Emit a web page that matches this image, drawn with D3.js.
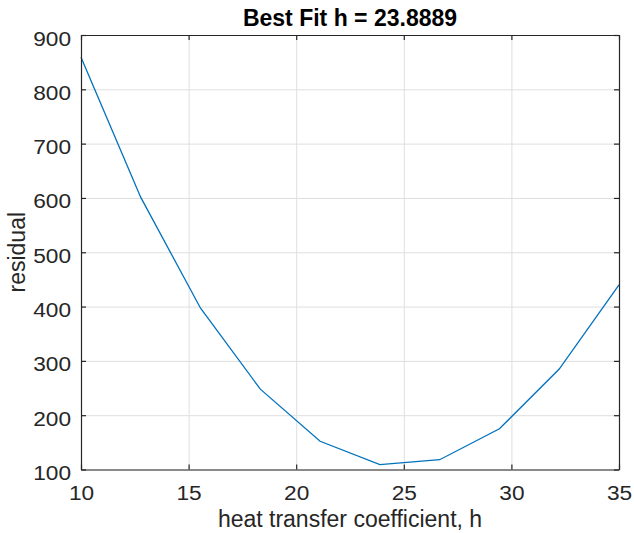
<!DOCTYPE html>
<html>
<head>
<meta charset="utf-8">
<script src="https://cdn.jsdelivr.net/npm/d3@7"></script>
<style>
  body { margin: 0; background: #fff; }
  text { font-family: "Liberation Sans", Arial, Helvetica, sans-serif; }
</style>
</head>
<body>
<svg id="chart" width="634" height="533"></svg>
<script>
// data
const hValues = [10, 12.7778, 15.5556, 18.3333, 21.1111, 23.8889, 26.6667, 29.4444, 32.2222, 35];
const residuals = [859, 601, 397, 248, 152, 109, 118, 175, 285, 440];
const xTicks = [10, 15, 20, 25, 30, 35];
const yTicks = [100, 200, 300, 400, 500, 600, 700, 800, 900];
const titleText = "Best Fit h = 23.8889";
const xLabelText = "heat transfer coefficient, h";
const yLabelText = "residual";

const svg = d3.select("#chart");
const margin = { top: 35, right: 15, bottom: 63.5, left: 81 };
const width = 634 - margin.left - margin.right;
const height = 533 - margin.top - margin.bottom;
const axisColor = "#262626";

const x = d3.scaleLinear().domain([10, 35]).range([0, width]);
const y = d3.scaleLinear().domain([100, 900]).range([height, 0]);

const g = svg.append("g").attr("transform", "translate(" + margin.left + "," + margin.top + ")");

// grid
g.append("g")
  .attr("class", "grid")
  .attr("transform", "translate(0," + height + ")")
  .call(d3.axisBottom(x).tickValues(xTicks).tickSize(-height).tickFormat(""));
g.append("g")
  .attr("class", "grid")
  .call(d3.axisLeft(y).tickValues(yTicks).tickSize(-width).tickFormat(""));
g.selectAll(".grid .domain").remove();
g.selectAll(".grid line").attr("stroke", "#dfdfdf").attr("stroke-width", 1);

// data line
const line = d3.line()
  .x((d, i) => x(hValues[i]))
  .y((d) => y(d));

g.append("path")
  .datum(residuals)
  .attr("fill", "none")
  .attr("stroke", "#0072BD")
  .attr("stroke-width", 1.3)
  .attr("d", line);

// axes with inward ticks on all four sides
const axisB = g.append("g")
  .attr("transform", "translate(0," + height + ")")
  .call(d3.axisBottom(x).tickValues(xTicks).tickSizeInner(-5).tickSizeOuter(0));
const axisT = g.append("g")
  .call(d3.axisTop(x).tickValues(xTicks).tickSizeInner(-5).tickSizeOuter(0).tickFormat(""));
const axisL = g.append("g")
  .call(d3.axisLeft(y).tickValues(yTicks).tickSizeInner(-5).tickSizeOuter(0));
const axisR = g.append("g")
  .attr("transform", "translate(" + width + ",0)")
  .call(d3.axisRight(y).tickValues(yTicks).tickSizeInner(-5).tickSizeOuter(0).tickFormat(""));

[axisB, axisT, axisL, axisR].forEach((a) => {
  a.attr("font-family", null);
  a.select(".domain").attr("stroke", axisColor).attr("stroke-width", 1.2);
  a.selectAll(".tick line").attr("stroke", axisColor).attr("stroke-width", 1.2);
});

axisB.selectAll(".tick text")
  .attr("y", null).attr("dy", null)
  .attr("text-anchor", "middle")
  .attr("font-size", 21)
  .attr("fill", axisColor)
  .attr("transform", "translate(0,30.5) scale(1.08,1)");

axisL.selectAll(".tick text")
  .attr("x", null).attr("dy", null)
  .attr("text-anchor", "end")
  .attr("font-size", 21)
  .attr("fill", axisColor)
  .attr("transform", "translate(-10,10) scale(1.08,1)");

// title and labels
svg.append("text")
  .attr("x", margin.left + width / 2)
  .attr("y", 26)
  .attr("text-anchor", "middle")
  .attr("font-size", 23)
  .attr("font-weight", "bold")
  .attr("fill", "#000")
  .text(titleText);

svg.append("text")
  .attr("x", margin.left + width / 2)
  .attr("y", 526.5)
  .attr("text-anchor", "middle")
  .attr("font-size", 23)
  .attr("fill", axisColor)
  .text(xLabelText);

svg.append("text")
  .attr("transform", "translate(24.5," + (margin.top + height / 2) + ") rotate(-90)")
  .attr("text-anchor", "middle")
  .attr("font-size", 23)
  .attr("fill", axisColor)
  .text(yLabelText);
</script>
</body>
</html>
